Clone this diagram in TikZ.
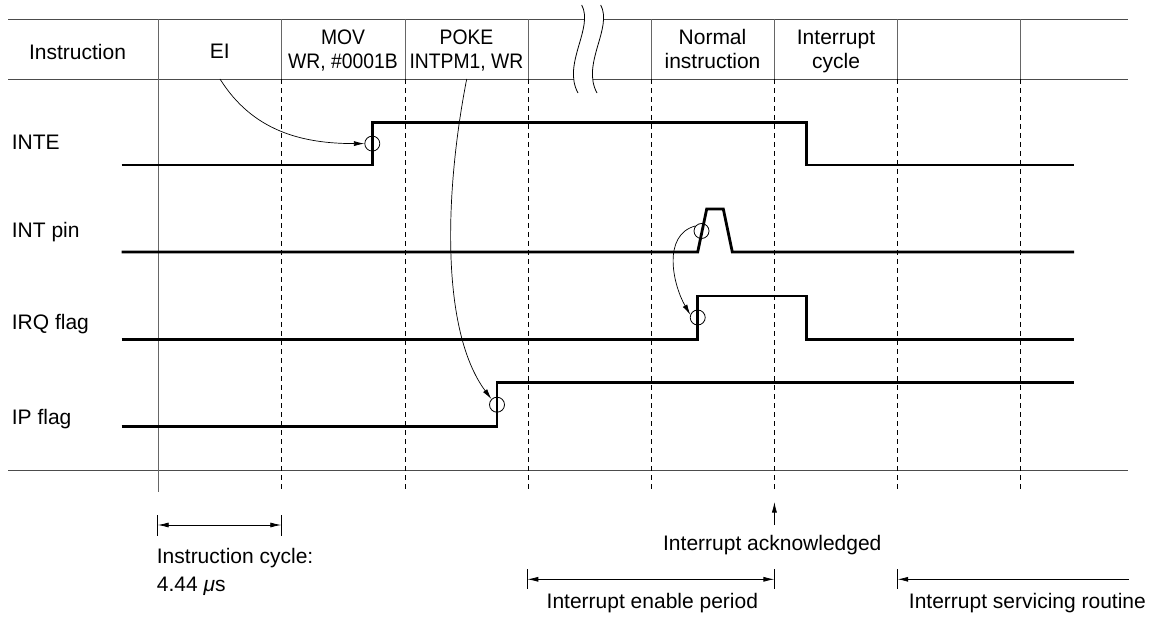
\documentclass[tikz,border=0pt]{standalone}
\usepackage{fontspec}
\setmainfont{Liberation Sans}
\newfontfamily\narrowsans[FakeStretch=0.92]{Liberation Sans}
\usetikzlibrary{arrows.meta}
\begin{document}
\begin{tikzpicture}[x=1pt,y=1pt,
  font=\fontsize{21}{24}\selectfont,
  hl/.style={draw=black!70,line width=0.9pt},
  vl/.style={draw=black!60,line width=0.9pt},
  vd/.style={draw=black,line width=1pt,dash pattern=on 5pt off 4pt},
  sig/.style={draw=black,line width=2.8pt,line join=miter},
  ring/.style={circle,draw=black,line width=0.8pt,minimum size=15pt,inner sep=0pt},
  arr/.style={draw=black,line width=0.7pt,-{Latex[length=10.5pt,width=5pt]}},
  darr/.style={draw=black,line width=0.8pt,{Latex[length=11pt,width=5pt]}-{Latex[length=11pt,width=5pt]}},
  tk/.style={draw=black,line width=0.8pt},
  lbl/.style={inner sep=0pt},
  nlbl/.style={inner sep=0pt,align=center,font=\narrowsans\fontsize{21}{24}\selectfont},
  brk/.style={draw=black,line width=0.8pt}]
\useasboundingbox (0,0) rectangle (1158,-617);

% table lines
\draw[hl] (8,-19) -- (1128,-19);
\draw[hl] (8,-79) -- (1128,-79);
\draw[hl] (8,-470) -- (1128,-470);
\draw[vl] (158,-19) -- (158,-492);
\foreach \x in {281.5,405,528,651,774.4,897.7,1020.7} {
  \draw[vl] (\x,-19) -- (\x,-79);
  \draw[vd] (\x,-79) -- (\x,-492);
}

% break mark
\path[fill=white] (581.7,-5) .. controls (594,-28) and (562,-64) .. (578,-93)
  -- (597,-93) .. controls (581,-64) and (613,-28) .. (600.7,-5) -- cycle;
\draw[brk] (581.7,-5) .. controls (594,-28) and (562,-64) .. (578,-93);
\draw[brk] (600.7,-5) .. controls (613,-28) and (581,-64) .. (597,-93);

% header texts
\node[lbl,anchor=base] (hInst) at (77.5,-59.3) {Instruction};
\node[lbl,anchor=base] (hEI) at (219.8,-58.5) {EI};
\node[nlbl] (hMOV) at (343,-50.3) {MOV\\WR, \#0001B};
\node[nlbl] (hPOKE) at (466.5,-50.3) {POKE\\INTPM1, WR};
\node[lbl,align=center] (hNorm) at (712.5,-48.7) {Normal\\instruction};
\node[lbl,align=center] (hIC) at (836,-51) {Interrupt\\cycle};

% signal names
\node[lbl,anchor=base west] (nINTE) at (11.7,-150) {INTE};
\node[lbl,anchor=base west] (nINT) at (11.7,-237.7) {INT pin};
\node[lbl,anchor=base west] (nIRQ) at (11.7,-330) {IRQ flag};
\node[lbl,anchor=base west] (nIP) at (11.7,-424) {IP flag};

% signals
\draw[sig] (121.7,-165) -- (372.3,-165) -- (372.3,-122.3) -- (806.7,-122.3) -- (806.7,-165) -- (1074,-165);
\draw[sig] (121.7,-252) -- (697.7,-252) -- (706.7,-209) -- (723.3,-209) -- (732.3,-252) -- (1074,-252);
\draw[sig] (121.7,-339.3) -- (697.7,-339.3) -- (697.7,-296) -- (806.7,-296) -- (806.7,-339.3) -- (1074,-339.3);
\draw[sig] (121.7,-426.7) -- (497,-426.7) -- (497,-382.7) -- (1074,-382.7);

% circles
\node[ring] (c1) at (372.3,-143.6) {};
\node[ring] (c2) at (701.5,-231) {};
\node[ring] (c3) at (697.7,-317.5) {};
\node[ring] (c4) at (497,-404.7) {};

% cause arrows
\coordinate (eiS) at (220,-79);
\coordinate (pkS) at (466.7,-79);
\draw[arr] (eiS) to[out=-58,in=180] (c1.west);
\draw[arr] (pkS) .. controls (445,-190) and (440,-330) .. (c4.135);
\draw[arr] (c2.140) to[out=195,in=120] (c3.160);

% instruction cycle
\coordinate (icL) at (157.7,-525);
\coordinate (icR) at (281.3,-525);
\draw[tk] (157.7,-515) -- (157.7,-536);
\draw[tk] (281.3,-515) -- (281.3,-536);
\draw[darr] (icL) -- (icR);
\node[lbl,anchor=base west] (tIC1) at (156.7,-563) {Instruction cycle:};
\node[lbl,anchor=base west] (tIC2) at (156.7,-591.7) {4.44 {\itshape μ}s};

% interrupt acknowledged
\coordinate (ackB) at (774.4,-525);
\coordinate (ackT) at (774.4,-502);
\draw[arr] (ackB) -- (ackT);
\node[lbl,anchor=base] (tAck) at (772.3,-550.7) {Interrupt acknowledged};

% interrupt enable period
\coordinate (epL) at (527.3,-579.3);
\coordinate (epR) at (774.4,-579.3);
\draw[tk] (527.3,-569) -- (527.3,-589);
\draw[tk] (774.4,-569) -- (774.4,-589);
\draw[darr] (epL) -- (epR);
\node[lbl,anchor=base west] (tEP) at (546.5,-608) {Interrupt enable period};

% interrupt servicing routine
\coordinate (srL) at (897.7,-579.3);
\coordinate (srR) at (1128.5,-579.3);
\draw[tk] (897.7,-569) -- (897.7,-589);
\draw[arr] (srR) -- (srL);
\node[lbl,anchor=base west] (tSR) at (908.7,-608) {Interrupt servicing routine};
\end{tikzpicture}
\end{document}
